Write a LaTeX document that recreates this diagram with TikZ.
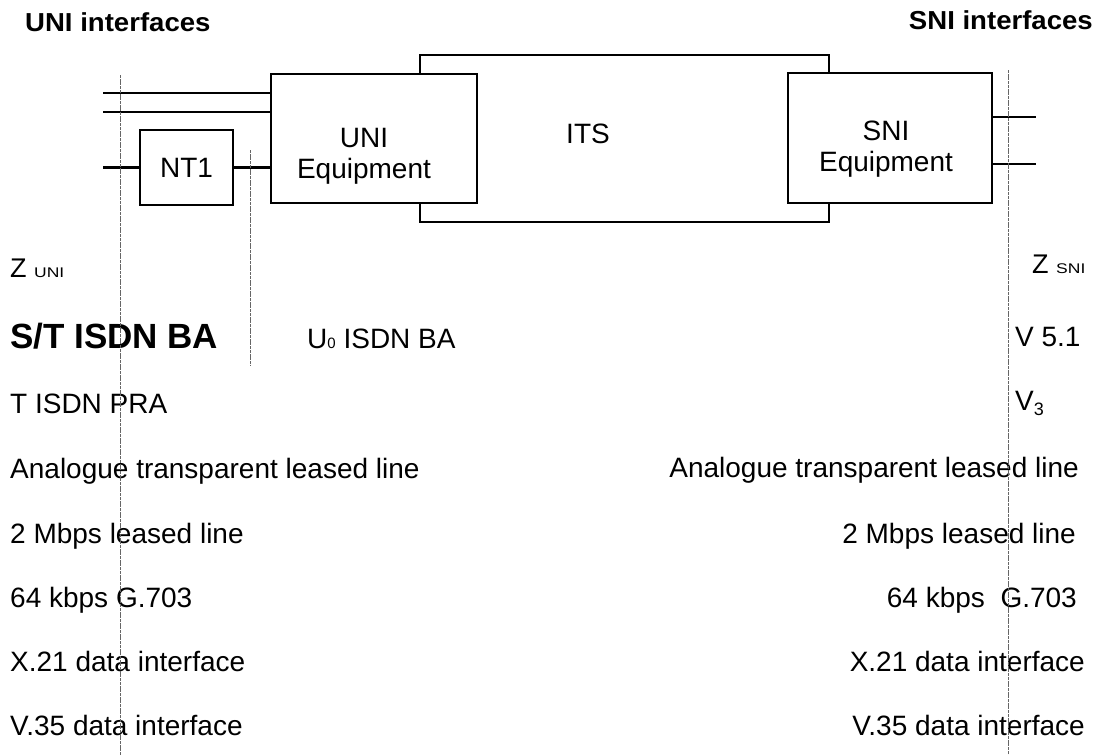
\documentclass[tikz,border=0pt]{standalone}
\usepackage{fontspec}
\setmainfont{Liberation Sans}
\usepackage{graphicx}
\newcommand\fs[1]{\fontsize{#1}{#1}\selectfont}
\newcommand\xsc[2]{\scalebox{#1}[1]{#2}}
\tikzset{
  box/.style={draw, line width=2.2pt, fill=white, rectangle, inner sep=0pt},
  wire/.style={line width=2.2pt},
  iface/.style={draw=black!60, line width=0.9pt, dash pattern=on 3pt off 0.7pt},
  lbl/.style={font=\fontsize{28}{31}\selectfont, inner sep=0pt},
  ttl/.style={font=\fs{26}\bfseries, inner sep=0pt},
}
\begin{document}
\begin{tikzpicture}[x=1pt,y=-1pt]
\useasboundingbox (0,0) rectangle (1096,755);

% boxes
\node[box, minimum width=409pt, minimum height=167pt] (its) at (624.5,138.5) {};
\node[box, minimum width=206pt, minimum height=129pt] (uni) at (374,138.5) {};
\node[box, minimum width=204pt, minimum height=130pt] (sni) at (890,138) {};
\node[box, minimum width=93pt, minimum height=75pt, font=\fs{28}] (nt1) at (186.5,167.5) {NT1};

\node[lbl, align=center] (unitxt) at (364,156) {UNI\\Equipment};
\node[lbl, align=center] (snitxt) at (886,149.5) {SNI\\Equipment};
\node[lbl, anchor=base] (itstxt) at (588,143) {ITS};

% wires
\coordinate (w1) at (103,93);
\coordinate (w2) at (103,112);
\coordinate (w3) at (103,167.5);
\draw[wire] (w1) -- (w1 -| uni.west);
\draw[wire] (w2) -- (w2 -| uni.west);
\draw[wire] (w3) -- (nt1.west);
\draw[wire] (nt1.east) -- (nt1.east -| uni.west);
\coordinate (e1) at (1036,117);
\coordinate (e2) at (1036,164);
\draw[wire] (e1 -| sni.east) -- (e1);
\draw[wire] (e2 -| sni.east) -- (e2);

% titles
\node[ttl, anchor=base west] (unititle) at (25,31) {\xsc{1.06}{UNI interfaces}};
\node[ttl, anchor=base east] (snititle) at (1093,29) {\xsc{1.06}{SNI interfaces}};

% reference point labels
\node[anchor=base west, inner sep=0pt] (zuni) at (10,277) {\fs{27}Z \fs{14}\xsc{1.25}{UNI}};
\node[anchor=base west, inner sep=0pt] (zsni) at (1032,273) {\fs{27}Z \fs{14}\xsc{1.25}{SNI}};

\node[anchor=base west, inner sep=0pt, font=\fs{35}\bfseries] (stba) at (10,348) {S/T ISDN BA};
\node[lbl, anchor=base west] (u0) at (307,348) {U{\fs{15}0} ISDN BA};
\node[lbl, anchor=base west] (v51) at (1015,346) {V 5.1};
\node[lbl, anchor=base west] (v3) at (1015,410) {V\raisebox{-5pt}{\fs{18}3}};

% left column
\node[lbl, anchor=base west] (l1) at (10,413) {T ISDN PRA};
\node[lbl, anchor=base west] (l2) at (10,478) {Analogue transparent leased line};
\node[lbl, anchor=base west] (l3) at (10,543) {2 Mbps leased line};
\node[lbl, anchor=base west] (l4) at (10,607) {64 kbps G.703};
\node[lbl, anchor=base west] (l5) at (10,671) {X.21 data interface};
\node[lbl, anchor=base west] (l6) at (10,735) {V.35 data interface};

% right column
\node[lbl, anchor=base east] (r2) at (1079,477) {Analogue transparent leased line};
\node[lbl, anchor=base east] (r3) at (1076,543) {2 Mbps leased line};
\node[lbl, anchor=base east] (r4) at (1077,607) {64 kbps\ \ G.703};
\node[lbl, anchor=base east] (r5) at (1085,671) {X.21 data interface};
\node[lbl, anchor=base east] (r6) at (1085,735) {V.35 data interface};

% interface reference lines
\coordinate (zu-top) at (120,75);
\coordinate (zu-bot) at (120,755);
\coordinate (s-top) at (250,150);
\coordinate (s-bot) at (250,366);
\coordinate (zs-top) at (1008,70);
\coordinate (zs-bot) at (1008,755);
\draw[iface] (zu-top) -- (zu-bot);
\draw[iface] (s-top) -- (s-bot);
\draw[iface] (zs-top) -- (zs-bot);
\end{tikzpicture}
\end{document}
